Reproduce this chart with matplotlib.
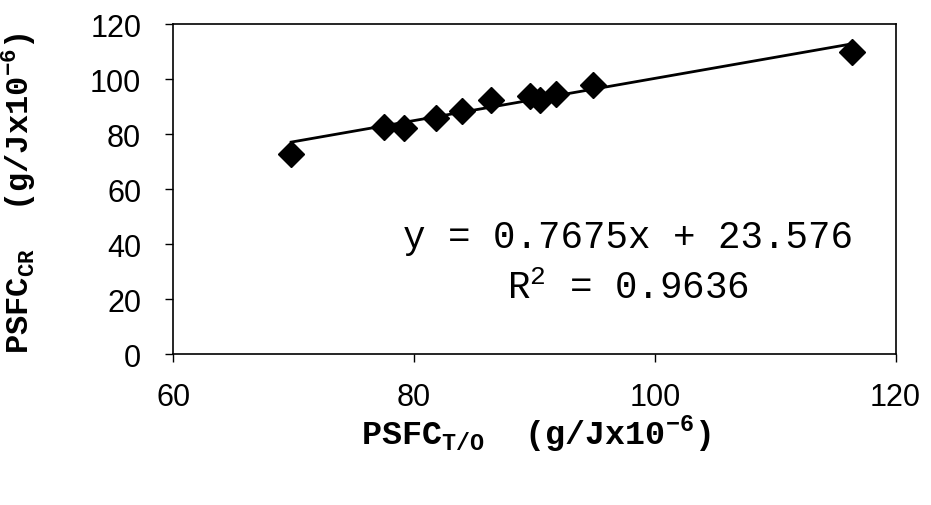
import numpy as np
import matplotlib
matplotlib.use("Agg")
import matplotlib.pyplot as plt

# data
psfc_to = [69.8, 77.5, 79.2, 81.8, 84.0, 86.4, 89.6, 90.5, 91.8, 94.9, 116.4]
psfc_cr = [72.7, 82.5, 82.2, 85.8, 88.4, 92.4, 93.8, 92.4, 94.5, 97.8, 109.8]

# linear trendline as reported on the chart
slope = 0.7675
intercept = 23.576
r_squared = 0.9636

x_ticks = [60, 80, 100, 120]
y_ticks = [0, 20, 40, 60, 80, 100, 120]

plt.rcParams['mathtext.fontset'] = 'custom'
plt.rcParams['mathtext.rm'] = 'Liberation Mono'
plt.rcParams['mathtext.bf'] = 'Liberation Mono:bold'

fig = plt.figure(figsize=(9.31, 5.06), dpi=100)
ax = fig.add_axes([0.186, 0.298, 0.776, 0.652])

ax.plot(psfc_to, psfc_cr, linestyle='none', marker='D', markersize=13,
        color='black', zorder=3)

xs = np.array([min(psfc_to), max(psfc_to)])
ax.plot(xs, slope * xs + intercept, color='black', linewidth=2, zorder=2)

ax.set_xlim(60, 120)
ax.set_ylim(0, 120)
ax.set_xticks(x_ticks)
ax.set_yticks(y_ticks)
ax.tick_params(direction='out', length=6, width=1, labelsize=22, pad=14)
ax.tick_params(axis='y', pad=17)
for lbl in ax.get_xticklabels() + ax.get_yticklabels():
    lbl.set_fontfamily('Liberation Sans')
for s in ax.spines.values():
    s.set_linewidth(1.2)

ax.set_xlabel(r'PSFC$_{\mathbf{T/O}}$  (g/Jx10$^{\mathbf{-6}}$)',
              fontfamily='Liberation Mono', fontweight='bold', fontsize=24)
ax.set_ylabel(r'PSFC$_{\mathbf{CR}}$  (g/Jx10$^{\mathbf{-6}}$)',
              fontfamily='Liberation Mono', fontweight='bold', fontsize=23)
ax.xaxis.set_label_coords(0.502, -0.175)
ax.yaxis.set_label_coords(-0.187, 0.49)

ax.text(97.75, 38.9, 'y = %.4fx + %.3f' % (slope, intercept),
        ha='center', va='baseline', fontfamily='Liberation Mono', fontsize=27)
ax.text(97.75, 20.4, r'R$^{\mathrm{2}}$ = %.4f' % r_squared,
        ha='center', va='baseline', fontfamily='Liberation Mono', fontsize=27)

fig.savefig('out.png', dpi=100)
